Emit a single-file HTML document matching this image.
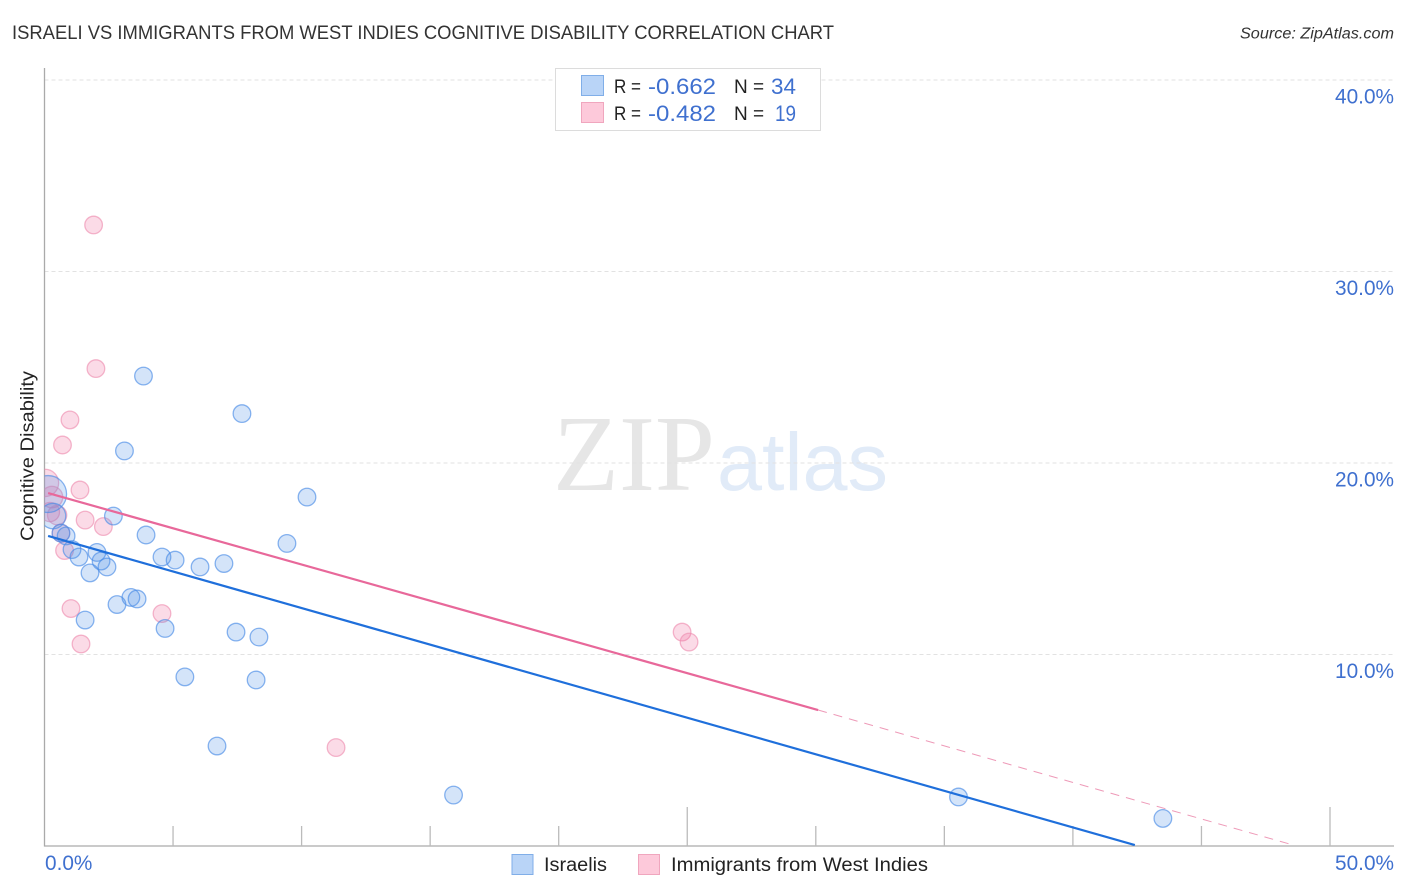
<!DOCTYPE html>
<html>
<head>
<meta charset="utf-8">
<title>Israeli vs Immigrants from West Indies Cognitive Disability Correlation Chart</title>
<style>
html,body{margin:0;padding:0;background:#fff;width:1406px;height:892px;overflow:hidden}
svg{display:block}
text{font-family:"Liberation Sans",sans-serif}
.blue{fill:#3f70cf}
.dark{fill:#222}
</style>
</head>
<body>
<svg id="chart" width="1406" height="892" viewBox="0 0 1406 892" xmlns="http://www.w3.org/2000/svg">
  <defs><clipPath id="plot-clip"><rect x="44.5" y="60" width="1350" height="786"/></clipPath></defs>
  <text x="12" y="39" font-size="19" fill="#333" textLength="822" lengthAdjust="spacingAndGlyphs">ISRAELI VS IMMIGRANTS FROM WEST INDIES COGNITIVE DISABILITY CORRELATION CHART</text>
  <text x="1394" y="38.500" font-size="15.500" font-style="italic" fill="#333" text-anchor="end" textLength="154" lengthAdjust="spacingAndGlyphs">Source: ZipAtlas.com</text>

  <g>
    <text x="553" y="490" font-size="108" style="font-family:'Liberation Serif',serif" fill="#e6e6e6" textLength="162" lengthAdjust="spacingAndGlyphs">ZIP</text>
    <text x="717" y="490" font-size="82" fill="#e1ebf8" textLength="171" lengthAdjust="spacingAndGlyphs">atlas</text>
  </g>

  <g id="grid"></g>
  <g id="axes"></g>
  <g id="marks" clip-path="url(#plot-clip)"></g>

  <text transform="translate(33.500,456) rotate(-90)" font-size="18" fill="#222" text-anchor="middle" textLength="170" lengthAdjust="spacingAndGlyphs">Cognitive Disability</text>

  <g>
    <rect x="555.500" y="68.500" width="265" height="62" fill="#fff" stroke="#dcdcdc" stroke-width="1"/>
    <rect x="581.500" y="75.500" width="22" height="20" fill="#b9d4f7" stroke="#80aee8"/>
    <rect x="581.500" y="102.500" width="22" height="20" fill="#fdc9da" stroke="#f0a6be"/>
    <text class="dark" x="614" y="93" font-size="19" textLength="27" lengthAdjust="spacingAndGlyphs">R =</text>
    <text class="blue" x="648" y="94" font-size="22" textLength="68" lengthAdjust="spacingAndGlyphs">-0.662</text>
    <text class="dark" x="734" y="93" font-size="19">N =</text>
    <text class="blue" x="771" y="94" font-size="22" textLength="25" lengthAdjust="spacingAndGlyphs">34</text>
    <text class="dark" x="614" y="120" font-size="19" textLength="27" lengthAdjust="spacingAndGlyphs">R =</text>
    <text class="blue" x="648" y="121" font-size="22" textLength="68" lengthAdjust="spacingAndGlyphs">-0.482</text>
    <text class="dark" x="734" y="120" font-size="19">N =</text>
    <text class="blue" x="775" y="121" font-size="22" textLength="21" lengthAdjust="spacingAndGlyphs">19</text>
  </g>

  <g>
    <rect x="512" y="854.500" width="21" height="20" fill="#b9d4f7" stroke="#80aee8"/>
    <text class="dark" x="544" y="871" font-size="19" textLength="63" lengthAdjust="spacingAndGlyphs">Israelis</text>
    <rect x="638.500" y="854.500" width="21" height="20" fill="#fdc9da" stroke="#f0a6be"/>
    <text class="dark" x="671" y="871" font-size="19" textLength="257" lengthAdjust="spacingAndGlyphs">Immigrants from West Indies</text>
  </g>
</svg>
<script>
// Values (percent units)
var israeliX = [3.85,7.68,3.11,10.21,2.68,3.95,9.43,0.84,0.64,1.07,1.34,2.04,2.20,2.43,1.77,4.57,5.08,6.05,6.98,2.82,3.36,3.60,1.58,4.69,7.45,8.34,5.46,8.23,6.71,15.91,35.55,43.50,0.14,0.33];
var israeliY = [24.54,22.58,20.63,18.22,17.23,16.24,15.80,16.19,16.34,15.48,15.09,15.33,14.88,14.57,14.26,15.09,14.93,14.57,14.75,12.61,12.98,12.90,11.80,11.36,11.17,10.91,8.83,8.67,5.22,2.66,2.56,1.44,18.38,17.23];
var israeliWeight = [1,1,1,1,1,1,1,1,1,1,1,1,1,1,1,1,1,1,1,1,1,1,1,1,1,1,1,1,1,1,1,1,4.4,2.1];
var westIndiesX = [1.91,2.00,0.99,0.70,1.38,1.58,2.29,0.78,1.03,1.42,4.57,24.80,25.07,11.34,0.02,0.29,0.21,0.49,0.64];
var westIndiesY = [32.43,24.93,22.25,20.94,18.59,17.02,16.68,15.43,12.40,10.55,12.14,11.17,10.65,5.14,18.96,18.22,17.44,17.28,16.34];
var westIndiesWeight = [1,1,1,1,1,1,1,1,1,1,1,1,1,1,2.4,1.5,1.2,1.2,1];
var israeliTrendX = [0.14,42.41];
var israeliTrendY = [16.19,0.05];
var westIndiesTrendX = [0.14,30.09];
var westIndiesTrendY = [18.43,7.10];
var westIndiesDashX = [30.09,48.44];
var westIndiesDashY = [7.10,0.10];
var yTicks = [10,20,30,40];
var yTickLabels = ["10.0%","20.0%","30.0%","40.0%"];
var xTicks = [0,5,10,15,20,25,30,35,40,45,50];
var xMajorTicks = [25,50];
var xEndTicks = [0,50];
var xEndLabels = ["0.0%","50.0%"];

var NS = 'http://www.w3.org/2000/svg';
function xScale(v){ return 44.5 + v * 25.71; }
function yScale(v){ return 846 - v * 19.15; }
function radius(w){ return 8.8 * Math.sqrt(w); }
function make(tag, attrs, parent){
  var el = document.createElementNS(NS, tag);
  for (var k in attrs) el.setAttribute(k, attrs[k]);
  parent.appendChild(el);
  return el;
}
var grid = document.getElementById('grid');
var axes = document.getElementById('axes');
var marks = document.getElementById('marks');

yTicks.forEach(function(t, i){
  var line = make('line', {x1:44.5, x2:1394, y1:yScale(t), y2:yScale(t), stroke:'#e2e2e2', 'stroke-width':1, 'stroke-dasharray':'4 3'}, grid);
  
  
  var label = make('text', {x:1394, y:yScale(t) + 23.5, 'font-size':20.8, 'text-anchor':'end', 'class':'blue'}, axes);
  
  
  label.textContent = yTickLabels[i];
});
var yAxis = make('line', {x1:44.5, x2:44.5, y1:68, y2:846.5, stroke:'#aaa', 'stroke-width':1.3}, axes);


var xAxis = make('line', {x1:44, x2:1394, y1:846, y2:846, stroke:'#aaa', 'stroke-width':1.3}, axes);


xTicks.forEach(function(t){
  if (t === 0) return;
  var len = xMajorTicks.indexOf(t) >= 0 ? 39 : 20;
  var tick = make('line', {x1:xScale(t), x2:xScale(t), y1:846, y2:846 - len, stroke:'#bbb', 'stroke-width':1.3}, axes);
  
  
});
xEndTicks.forEach(function(t, i){
  var label = make('text', {x: i === 0 ? xScale(t) + 0.5 : 1394, y:870, 'font-size':20.8, 'text-anchor': i === 0 ? 'start' : 'end', 'class':'blue'}, axes);
  
  
  label.textContent = xEndLabels[i];
});

function drawPoints(xs, ys, ws, fill, stroke, name){
  xs.forEach(function(x, i){
    var c = make('circle', {cx:xScale(x), cy:yScale(ys[i]), r:radius(ws[i]), fill:fill, 'fill-opacity':0.24, stroke:stroke, 'stroke-opacity':0.65, 'stroke-width':1.3}, marks);
    
    
  });
}
function drawLine(xs, ys, stroke, width, dash, name){
  var attrs = {x1:xScale(xs[0]), y1:yScale(ys[0]), x2:xScale(xs[1]), y2:yScale(ys[1]), stroke:stroke, 'stroke-width':width};
  if (dash) attrs['stroke-dasharray'] = dash;
  var l = make('line', attrs, marks);
  
  
}
drawPoints(westIndiesX, westIndiesY, westIndiesWeight, '#f06a9a', '#ee8fb0', 'west-indies-point');
drawPoints(israeliX, israeliY, israeliWeight, '#4a8fe8', '#4a8ce6', 'israeli-point');
drawLine(westIndiesDashX, westIndiesDashY, '#ee9ab8', 1, '9 7', 'west-indies-trend-extension');
drawLine(israeliTrendX, israeliTrendY, '#1f6fdb', 2.2, null, 'israeli-trend-line');
drawLine(westIndiesTrendX, westIndiesTrendY, '#e8689a', 2.2, null, 'west-indies-trend-line');
</script>
</body>
</html>
